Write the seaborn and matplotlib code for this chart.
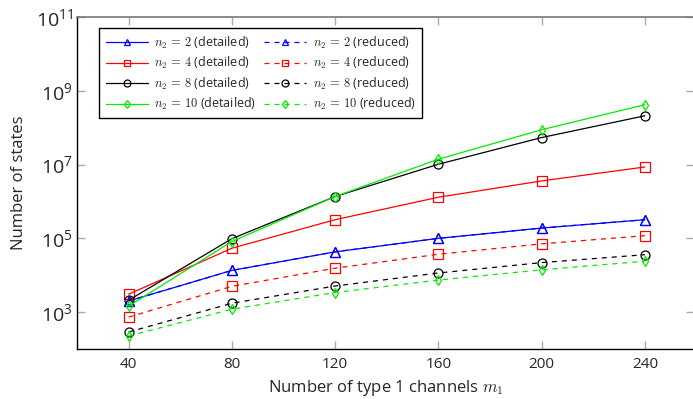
import numpy as np
import pandas as pd
import seaborn as sns
import matplotlib
matplotlib.use("Agg")
import matplotlib.pyplot as plt
from matplotlib.lines import Line2D
from matplotlib.ticker import LogFormatterMathtext, NullLocator

# values
channels = [40, 80, 120, 160, 200, 240]
n2_values = [2, 4, 8, 10]

detailed_2 = [2.0e3, 1.35e4, 4.3e4, 1.0e5, 1.9e5, 3.2e5]
detailed_4 = [3.05e3, 5.4e4, 3.2e5, 1.3e6, 3.6e6, 8.6e6]
detailed_8 = [2.1e3, 9.8e4, 1.36e6, 1.02e7, 5.4e7, 2.1e8]
detailed_10 = [1.45e3, 8.2e4, 1.36e6, 1.4e7, 8.8e7, 4.2e8]

# n2 = 2 reduced coincides with the detailed curve
reduced_2 = [2.0e3, 1.35e4, 4.3e4, 1.0e5, 1.9e5, 3.2e5]
reduced_4 = [733, 5.0e3, 1.55e4, 3.7e4, 7.1e4, 1.18e5]
reduced_8 = [288, 1.74e3, 5.1e3, 1.15e4, 2.2e4, 3.6e4]
reduced_10 = [225, 1.2e3, 3.4e3, 7.4e3, 1.4e4, 2.4e4]

colors = {2: "#0000ff", 4: "#ff0000", 8: "#000000", 10: "#00ee00"}
markers = {2: "^", 4: "s", 8: "o", 10: "d"}

rows = []
for n2, d, r in zip(n2_values,
                    [detailed_2, detailed_4, detailed_8, detailed_10],
                    [reduced_2, reduced_4, reduced_8, reduced_10]):
    for m1, dv, rv in zip(channels, d, r):
        rows.append([n2, "detailed", m1, dv])
        rows.append([n2, "reduced", m1, rv])
df = pd.DataFrame(rows, columns=["n2", "model", "m1", "states"])

sns.set_style("white")
plt.rcParams["font.family"] = ["Open Sans", "DejaVu Sans"]
plt.rcParams["mathtext.fontset"] = "cm"

fig = plt.figure(figsize=(6.93, 3.99), dpi=100)
ax = fig.add_axes([77 / 693, 50 / 399, 617 / 693, 332 / 399])

DASH = (0, (4, 4))
handles = {}
for model in ["reduced", "detailed"]:
    for n2 in n2_values:
        sub = df[(df.n2 == n2) & (df.model == model)]
        ls = "-" if model == "detailed" else DASH
        sns.lineplot(data=sub, x="m1", y="states", ax=ax, color=colors[n2],
                     lw=0.9, linestyle=ls, marker=markers[n2],
                     markersize=6.5 if n2 != 10 else 5.5,
                     markerfacecolor="none", markeredgecolor=colors[n2],
                     markeredgewidth=0.9, legend=False)
        handles[(model, n2)] = Line2D(
            [], [], color=colors[n2], lw=0.9, linestyle=ls,
            marker=markers[n2], markersize=5 if n2 != 10 else 4.5,
            markerfacecolor="none", markeredgecolor=colors[n2],
            markeredgewidth=0.9)

ax.set_yscale("log")
ax.set_ylim(1e2, 1e11)
ax.set_xlim(20, 259)
ax.set_xticks(channels)
ax.set_xticklabels([str(c) for c in channels])
ax.set_yticks([1e3, 1e5, 1e7, 1e9, 1e11])
ax.yaxis.set_major_formatter(LogFormatterMathtext())
ax.yaxis.set_minor_locator(NullLocator())

ax.tick_params(axis="both", which="major", direction="in", length=6,
               width=1, color="#aaaaaa", top=True, right=True,
               bottom=True, left=True)
ax.tick_params(axis="x", labelsize=11, pad=6)
ax.tick_params(axis="y", labelsize=14, pad=3)

for side in ["left", "bottom"]:
    ax.spines[side].set_color("black")
    ax.spines[side].set_linewidth(1)
for side in ["top", "right"]:
    ax.spines[side].set_color("#777777")
    ax.spines[side].set_linewidth(1.2)

ax.set_xlabel("Number of type 1 channels $m_1$", fontsize=12, labelpad=4)
ax.set_ylabel("Number of states", fontsize=12, labelpad=6)

order = [("detailed", n) for n in n2_values] + [("reduced", n) for n in n2_values]
labels = [r"$n_2\,=\,%d$ (%s)" % (n, m) for m, n in order]
leg = ax.legend([handles[k] for k in order], labels, ncol=2, loc="upper left",
                bbox_to_anchor=(0.026, 0.985), fontsize=9, frameon=True,
                fancybox=False, edgecolor="black", framealpha=1,
                handlelength=3.4, columnspacing=0.6, handletextpad=0.5,
                labelspacing=0.35, borderpad=0.5)
leg.get_frame().set_linewidth(1)

fig.savefig("out.png", dpi=100)
